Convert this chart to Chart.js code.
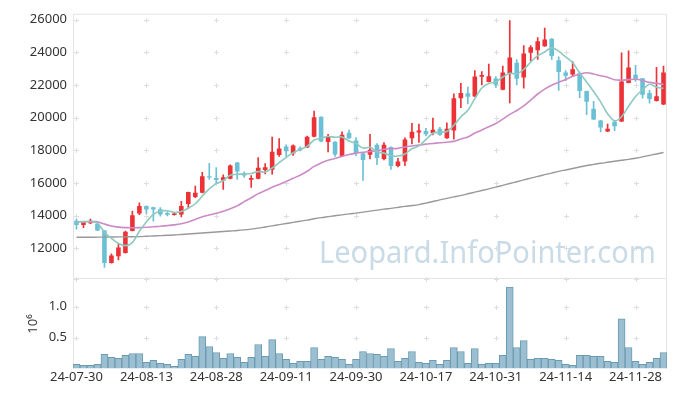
<!DOCTYPE html>
<html>
<head>
<meta charset="utf-8">
<script src="https://cdn.jsdelivr.net/npm/chart.js@4.4.1/dist/chart.umd.min.js"></script>
<style>
  html, body { margin: 0; padding: 0; background: #fff; }
  #wrap { width: 677px; height: 396px; }
</style>
</head>
<body>
<div id="wrap"><canvas id="stockChart" width="677" height="396"></canvas></div>
<script>
// trading days (yy-mm-dd)
const dates = [
  '24-07-30', '24-07-31', '24-08-01', '24-08-02', '24-08-05', '24-08-06', '24-08-07', '24-08-08', '24-08-09', '24-08-12',
  '24-08-13', '24-08-14', '24-08-16', '24-08-19', '24-08-20', '24-08-21', '24-08-22', '24-08-23', '24-08-26', '24-08-27',
  '24-08-28', '24-08-29', '24-08-30', '24-09-02', '24-09-03', '24-09-04', '24-09-05', '24-09-06', '24-09-09', '24-09-10',
  '24-09-11', '24-09-12', '24-09-13', '24-09-19', '24-09-20', '24-09-23', '24-09-24', '24-09-25', '24-09-26', '24-09-27',
  '24-09-30', '24-10-02', '24-10-04', '24-10-07', '24-10-08', '24-10-10', '24-10-11', '24-10-14', '24-10-15', '24-10-16',
  '24-10-17', '24-10-18', '24-10-21', '24-10-22', '24-10-23', '24-10-24', '24-10-25', '24-10-28', '24-10-29', '24-10-30',
  '24-10-31', '24-11-01', '24-11-04', '24-11-05', '24-11-06', '24-11-07', '24-11-08', '24-11-11', '24-11-12', '24-11-13',
  '24-11-14', '24-11-15', '24-11-18', '24-11-19', '24-11-20', '24-11-21', '24-11-22', '24-11-25', '24-11-26', '24-11-27',
  '24-11-28', '24-11-29', '24-12-02', '24-12-03', '24-12-04'
];

// daily prices
const opens = [
  13680, 13420, 13520, 13500, 13090, 11100, 11500, 11700, 13060, 14120,
  14590, 14510, 14390, 14150, 14030, 14060, 14710, 15140, 15400, 16410,
  16290, 16150, 16250, 17250, 16600, 16190, 16250, 16790, 16810, 17700,
  18225, 17800, 18120, 18170, 18830, 20040, 18500, 18510, 17640, 19070,
  18590, 17820, 17720, 18340, 17460, 18200, 17030, 17300, 18730, 19090,
  19180, 19060, 19320, 18730, 19210, 21180, 21480, 21280, 22490, 22180,
  22390, 21700, 22710, 23360, 22450, 23960, 24120, 24360, 24830, 23500,
  22750, 22630, 22710, 21620, 20530, 19820, 19150, 19740, 19760, 22120,
  22620, 22400, 21500, 21010, 20790
];
const highs = [
  13780, 13640, 13790, 13540, 13100, 11650, 12240, 13050, 14270, 14770,
  14600, 14520, 14490, 14230, 14200, 14870, 15440, 15800, 16650, 17200,
  16930, 16490, 17100, 17260, 16680, 16450, 17540, 17180, 18810, 18710,
  18330, 18330, 18200, 18860, 20390, 20050, 18970, 18520, 19120, 19230,
  18770, 17830, 18970, 18400, 18460, 18210, 17500, 18750, 19640, 19600,
  19340, 19960, 19400, 19680, 21450, 22100, 21870, 22870, 22810, 23270,
  22500, 23150, 25930, 23540, 24400, 24400, 24890, 25480, 24840, 23720,
  22870, 23420, 22800, 21620, 20990, 19830, 19600, 19760, 23960, 24080,
  23190, 22400, 21660, 23070, 23150
];
const lows = [
  13170, 13250, 13500, 13080, 10830, 11090, 11280, 11690, 13050, 14060,
  14120, 13660, 13960, 13970, 14020, 13920, 14430, 15100, 15390, 16210,
  16000, 15600, 16240, 16210, 16330, 15720, 16240, 16550, 16530, 17620,
  17620, 17680, 17950, 18150, 18820, 18500, 17900, 17620, 17630, 18700,
  17660, 16150, 17460, 17120, 17400, 16830, 16980, 17050, 18390, 18470,
  18870, 18930, 18900, 18720, 18670, 20610, 20830, 21270, 22000, 22180,
  21840, 21690, 20890, 22000, 21800, 23460, 23560, 24350, 23560, 21660,
  22250, 22510, 21210, 20180, 19870, 19120, 19140, 19200, 19750, 22120,
  22210, 21190, 20880, 21000, 20780
];
const closes = [
  13420, 13600, 13680, 13090, 11090, 11560, 12040, 13010, 14020, 14590,
  14370, 14370, 14060, 14040, 14120, 14590, 15440, 15400, 16400, 16330,
  16180, 16350, 17070, 16690, 16450, 16300, 16930, 16950, 17900, 18100,
  17940, 18290, 18000, 18830, 20020, 18530, 18830, 17740, 18950, 18730,
  17820, 17400, 18020, 17520, 18340, 17030, 17310, 18650, 19130, 19200,
  18970, 19250, 18950, 19320, 21180, 21500, 21270, 22510, 22600, 22530,
  22000, 22750, 23680, 22370, 23920, 24300, 24670, 24770, 23760, 22790,
  22550, 22950, 21620, 20970, 19880, 19390, 19310, 19460, 22210, 23070,
  22380, 21400, 21130, 21300, 22750
];

// moving averages
const ma5 = [
  13600, 13610, 13620, 13540, 12980, 12600, 12290, 12160, 12340, 13040,
  13610, 14070, 14280, 14290, 14190, 14240, 14450, 14720, 15190, 15630,
  15950, 16130, 16470, 16520, 16550, 16570, 16690, 16660, 16910, 17240,
  17560, 17840, 18050, 18230, 18620, 18730, 18840, 18790, 18810, 18560,
  18410, 18130, 18180, 17900, 17820, 17660, 17640, 17770, 18090, 18260,
  18650, 19040, 19100, 19140, 19530, 20040, 20440, 21160, 21810, 22080,
  22180, 22480, 22710, 22670, 22940, 23400, 23790, 24010, 24280, 24060,
  23710, 23360, 22730, 22180, 21590, 20960, 20230, 19800, 20050, 20690,
  21290, 21700, 22040, 21860, 21790
];
const ma20 = [
  13620, 13630, 13630, 13620, 13480, 13360, 13290, 13260, 13250, 13260,
  13280, 13310, 13340, 13380, 13430, 13500, 13600, 13760, 13920, 14030,
  14140, 14260, 14420, 14590, 14850, 15090, 15340, 15530, 15730, 15900,
  16080, 16280, 16470, 16710, 17010, 17210, 17380, 17490, 17620, 17740,
  17820, 17870, 17920, 17960, 18060, 18090, 18110, 18200, 18260, 18310,
  18370, 18410, 18460, 18490, 18540, 18690, 18810, 19050, 19240, 19430,
  19630, 19900, 20190, 20430, 20710, 21070, 21440, 21740, 21980, 22160,
  22330, 22520, 22650, 22740, 22670, 22560, 22470, 22310, 22290, 22320,
  22340, 22270, 22150, 22090, 22030
];
const ma120 = [
  12670, 12670, 12670, 12675, 12680, 12685, 12690, 12695, 12700, 12710,
  12730, 12750, 12770, 12790, 12810, 12840, 12870, 12900, 12930, 12960,
  12990, 13020, 13050, 13080, 13120, 13170, 13230, 13300, 13370, 13440,
  13510, 13580, 13650, 13720, 13800, 13870, 13930, 13990, 14040, 14100,
  14150, 14210, 14270, 14330, 14390, 14440, 14500, 14560, 14610, 14670,
  14760, 14860, 14960, 15050, 15140, 15230, 15330, 15430, 15530, 15630,
  15740, 15850, 15960, 16070, 16180, 16290, 16400, 16500, 16600, 16700,
  16790, 16880, 16970, 17060, 17130, 17200, 17260, 17320, 17380, 17440,
  17510, 17590, 17680, 17770, 17860
];

// volume in millions of shares
const volumes = [
  0.069, 0.053, 0.053, 0.069, 0.228, 0.180, 0.165, 0.212, 0.244, 0.244,
  0.100, 0.133, 0.085, 0.069, 0.037, 0.149, 0.228, 0.196, 0.516, 0.356,
  0.260, 0.165, 0.244, 0.180, 0.100, 0.180, 0.388, 0.196, 0.468, 0.244,
  0.149, 0.085, 0.117, 0.117, 0.340, 0.149, 0.196, 0.180, 0.149, 0.069,
  0.149, 0.276, 0.244, 0.228, 0.196, 0.324, 0.117, 0.165, 0.276, 0.100,
  0.085, 0.133, 0.069, 0.133, 0.340, 0.276, 0.085, 0.324, 0.069, 0.085,
  0.085, 0.212, 1.315, 0.340, 0.452, 0.149, 0.165, 0.165, 0.149, 0.133,
  0.069, 0.053, 0.212, 0.212, 0.196, 0.196, 0.117, 0.100, 0.803, 0.340,
  0.117, 0.069, 0.100, 0.165, 0.260
];

// tick labels
const priceTicks = [12000, 14000, 16000, 18000, 20000, 22000, 24000, 26000];
const volumeTicks = [0.5, 1.0];

const upColor = '#ec3237';
const downColor = '#6cc0d6';
const labelFont = { family: '"Noto Sans", sans-serif', size: 13 };
const labelColor = '#333';

const candleColors = closes.map((c, i) => (c >= opens[i] ? upColor : downColor));

// frame, "+" grid marks and the watermark, drawn under the data
const chartDecor = {
  id: 'chartDecor',
  beforeDatasetsDraw(chart) {
    const { ctx, chartArea, scales } = chart;
    const x = scales.x, y = scales.y, yv = scales.yv;
    const sep = Math.round(y.bottom) - 0.5;
    ctx.save();

    // frame lines
    ctx.strokeStyle = '#e4e4e4';
    ctx.lineWidth = 1;
    ctx.beginPath();
    ctx.moveTo(chartArea.left + 0.5, chartArea.top + 0.5);
    ctx.lineTo(chartArea.right - 0.5, chartArea.top + 0.5);
    ctx.moveTo(chartArea.left + 0.5, chartArea.top);
    ctx.lineTo(chartArea.left + 0.5, chartArea.bottom);
    ctx.moveTo(chartArea.right - 0.5, chartArea.top);
    ctx.lineTo(chartArea.right - 0.5, chartArea.bottom);
    ctx.moveTo(chartArea.left, sep);
    ctx.lineTo(chartArea.right, sep);
    ctx.stroke();

    // little crosses where the grid lines would meet
    const rows = priceTicks.map(v => y.getPixelForValue(v))
      .concat(volumeTicks.map(v => yv.getPixelForValue(v)))
      .concat([sep]);
    ctx.strokeStyle = '#dedede';
    ctx.beginPath();
    for (let i = 0; i < dates.length; i += 10) {
      const px = Math.round(x.getPixelForValue(i)) + 0.5;
      rows.forEach(r => {
        const py = Math.round(r) + 0.5;
        ctx.moveTo(px - 2.5, py);
        ctx.lineTo(px + 2.5, py);
        ctx.moveTo(px, py - 2.5);
        ctx.lineTo(px, py + 2.5);
      });
    }
    ctx.stroke();

    // watermark
    ctx.fillStyle = '#c9dbe6';
    ctx.font = '31px "Noto Sans", sans-serif';
    ctx.textAlign = 'right';
    ctx.textBaseline = 'alphabetic';
    ctx.fillText('Leopard.InfoPointer.com', chartArea.right - 11, y.bottom - 16, 337);
    ctx.restore();
  }
};

const ctx = document.getElementById('stockChart').getContext('2d');
const stockChart = new Chart(ctx, {
  type: 'bar',
  data: {
    labels: dates,
    datasets: [
      {
        type: 'line', label: 'MA5', data: ma5, yAxisID: 'y', order: 0,
        borderColor: '#8ccabf', borderWidth: 1.6, pointRadius: 0, tension: 0.3, fill: false
      },
      {
        type: 'line', label: 'MA20', data: ma20, yAxisID: 'y', order: 0,
        borderColor: '#cc8bc7', borderWidth: 1.6, pointRadius: 0, tension: 0.3, fill: false
      },
      {
        type: 'line', label: 'MA120', data: ma120, yAxisID: 'y', order: 0,
        borderColor: '#999999', borderWidth: 1.4, pointRadius: 0, tension: 0.3, fill: false
      },
      {
        label: 'wick', data: lows.map((l, i) => [l, highs[i]]), yAxisID: 'y', order: 2,
        backgroundColor: candleColors, barThickness: 1, grouped: false
      },
      {
        label: 'body', data: opens.map((o, i) => [o, closes[i]]), yAxisID: 'y', order: 1,
        backgroundColor: candleColors, barPercentage: 0.66, categoryPercentage: 1,
        minBarLength: 1, grouped: false
      },
      {
        label: 'volume', data: volumes, yAxisID: 'yv', order: 3,
        backgroundColor: '#9bbfd0', borderColor: '#6a9bb3', borderWidth: 1,
        barPercentage: 1, categoryPercentage: 1, grouped: false
      }
    ]
  },
  options: {
    responsive: false,
    devicePixelRatio: 1,
    animation: false,
    layout: { padding: { top: 10, right: 10, left: 0, bottom: 0 } },
    plugins: {
      legend: { display: false },
      tooltip: { enabled: false }
    },
    scales: {
      x: {
        type: 'category',
        offset: true,
        grid: { display: false, drawTicks: false },
        border: { display: false },
        ticks: {
          autoSkip: false, maxRotation: 0, padding: 1, color: labelColor, font: labelFont,
          callback: (value, index) => (index % 10 === 0 ? dates[index] : null)
        },
        afterFit: scale => { scale.height = 27.4; }
      },
      y: {
        position: 'left', stack: 'panes', stackWeight: 2.97, weight: 2,
        min: 10100, max: 26350,
        grid: { display: false, drawTicks: false },
        border: { display: false },
        afterBuildTicks: scale => { scale.ticks = priceTicks.map(v => ({ value: v })); },
        ticks: {
          autoSkip: false, padding: 6, color: labelColor, font: labelFont,
          callback: value => String(value)
        },
        afterFit: scale => { scale.width = 73; }
      },
      yv: {
        position: 'left', stack: 'panes', stackWeight: 1, weight: 1,
        min: 0, max: 1.44,
        grid: { display: false, drawTicks: false },
        border: { display: false },
        title: {
          display: true, text: '10⁶', color: labelColor, font: labelFont,
          padding: { top: 25, bottom: 0 }
        },
        afterBuildTicks: scale => { scale.ticks = volumeTicks.map(v => ({ value: v })); },
        ticks: {
          autoSkip: false, padding: 6, color: labelColor, font: labelFont,
          callback: value => value.toFixed(1)
        },
        afterFit: scale => { scale.width = 73; }
      }
    }
  },
  plugins: [chartDecor]
});
</script>
</body>
</html>
